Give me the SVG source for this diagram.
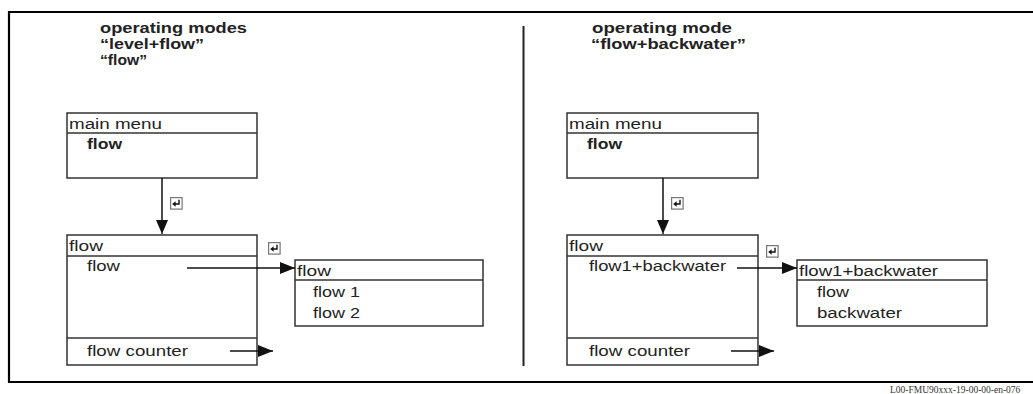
<svg xmlns="http://www.w3.org/2000/svg" width="1033" height="394" viewBox="0 0 1033 394">
<defs>
<style>
text{font-family:"Liberation Sans",Arial,sans-serif;font-size:15.5px;fill:#222}
.b{font-weight:bold;font-size:15px}
.box{fill:#fff;stroke:#333;stroke-width:1.5}
.sep{stroke:#333;stroke-width:1.5}
.con{stroke:#111;stroke-width:1.5;fill:none}
.key rect{fill:#fff;stroke:#777;stroke-width:1.2}
.key path{stroke:#111;stroke-width:1.4;fill:none}
.key polygon{fill:#111}
.foot{font-family:"Liberation Serif","Times New Roman",serif;font-size:9.5px;fill:#333}
</style>
<marker id="ahv" markerWidth="12" markerHeight="14" refX="14" refY="6" orient="auto" markerUnits="userSpaceOnUse"><path d="M0,0 L14,6 L0,12 Z" fill="#111"/></marker>
<marker id="ahh" markerWidth="16" markerHeight="12" refX="15" refY="6" orient="auto" markerUnits="userSpaceOnUse"><path d="M0,0 L15,6 L0,12 Z" fill="#111"/></marker>
<g id="enterkey" class="key"><rect x="0.6" y="0.6" width="11.5" height="11.5"/><path d="M9,2.8 V7 H5"/><polygon points="2.2,7 5.6,4.3 5.6,9.7"/></g>
</defs>
<rect width="1033" height="394" fill="#fff"/>
<path d="M1040,12 H9 V382 H1040" fill="none" stroke="#000" stroke-width="2.2"/>
<line x1="523.5" y1="26" x2="523.5" y2="366" stroke="#222" stroke-width="2"/>
<g id="title-left"><text class="b" x="100" y="33" textLength="147" lengthAdjust="spacingAndGlyphs">operating modes</text><text class="b" x="100" y="49" textLength="104" lengthAdjust="spacingAndGlyphs">“level+flow”</text><text class="b" x="100" y="65" textLength="47" lengthAdjust="spacingAndGlyphs">“flow”</text></g>
<g id="title-right"><text class="b" x="592" y="33" textLength="140" lengthAdjust="spacingAndGlyphs">operating mode</text><text class="b" x="591" y="49" textLength="155" lengthAdjust="spacingAndGlyphs">“flow+backwater”</text></g>
<g id="main-menu-left"><rect class="box" x="67" y="113" width="190" height="65"/><line class="sep" x1="67" y1="133" x2="257" y2="133"/><text x="69" y="129" textLength="93" lengthAdjust="spacingAndGlyphs">main menu</text><text class="b" x="87" y="149" textLength="35" lengthAdjust="spacingAndGlyphs">flow</text></g>
<g id="flow-left"><rect class="box" x="67" y="235" width="190" height="130"/><line class="sep" x1="67" y1="256" x2="257" y2="256"/><line class="sep" x1="67" y1="338" x2="257" y2="338"/><text x="69" y="251" textLength="34" lengthAdjust="spacingAndGlyphs">flow</text><text x="87" y="271" textLength="33" lengthAdjust="spacingAndGlyphs">flow</text><text x="87" y="356" textLength="101" lengthAdjust="spacingAndGlyphs">flow counter</text></g>
<g id="sub-left"><rect class="box" x="295" y="260" width="188" height="66"/><line class="sep" x1="295" y1="280" x2="483" y2="280"/><text x="297" y="276" textLength="34" lengthAdjust="spacingAndGlyphs">flow</text><text x="313" y="297" textLength="47" lengthAdjust="spacingAndGlyphs">flow 1</text><text x="313" y="318" textLength="47" lengthAdjust="spacingAndGlyphs">flow 2</text></g>
<g id="main-menu-right"><rect class="box" x="567" y="113" width="191" height="65"/><line class="sep" x1="567" y1="133" x2="758" y2="133"/><text x="569" y="129" textLength="93" lengthAdjust="spacingAndGlyphs">main menu</text><text class="b" x="587" y="149" textLength="35" lengthAdjust="spacingAndGlyphs">flow</text></g>
<g id="flow-right"><rect class="box" x="567" y="235" width="191" height="130"/><line class="sep" x1="567" y1="256" x2="758" y2="256"/><line class="sep" x1="567" y1="338" x2="758" y2="338"/><text x="569" y="251" textLength="34" lengthAdjust="spacingAndGlyphs">flow</text><text x="589" y="271" textLength="137" lengthAdjust="spacingAndGlyphs">flow1+backwater</text><text x="589" y="356" textLength="101" lengthAdjust="spacingAndGlyphs">flow counter</text></g>
<g id="sub-right"><rect class="box" x="797" y="260" width="190" height="66"/><line class="sep" x1="797" y1="280" x2="987" y2="280"/><text x="799" y="276" textLength="139" lengthAdjust="spacingAndGlyphs">flow1+backwater</text><text x="817" y="297" textLength="32" lengthAdjust="spacingAndGlyphs">flow</text><text x="817" y="318" textLength="85" lengthAdjust="spacingAndGlyphs">backwater</text></g>
<g id="connectors">
<line class="con" x1="162" y1="178" x2="162" y2="234" marker-end="url(#ahv)"/>
<line class="con" x1="187" y1="268" x2="295" y2="268" marker-end="url(#ahh)"/>
<line class="con" x1="230" y1="351" x2="273" y2="351" marker-end="url(#ahh)"/>
<line class="con" x1="663" y1="178" x2="663" y2="234" marker-end="url(#ahv)"/>
<line class="con" x1="737" y1="268" x2="797" y2="268" marker-end="url(#ahh)"/>
<line class="con" x1="731" y1="351" x2="774" y2="351" marker-end="url(#ahh)"/>
</g>
<g id="keys">
<use href="#enterkey" x="170" y="197"/>
<use href="#enterkey" x="268" y="242"/>
<use href="#enterkey" x="671" y="197"/>
<use href="#enterkey" x="766" y="245"/>
</g>
<text class="foot" x="890" y="393">L00-FMU90xxx-19-00-00-en-076</text>
</svg>
